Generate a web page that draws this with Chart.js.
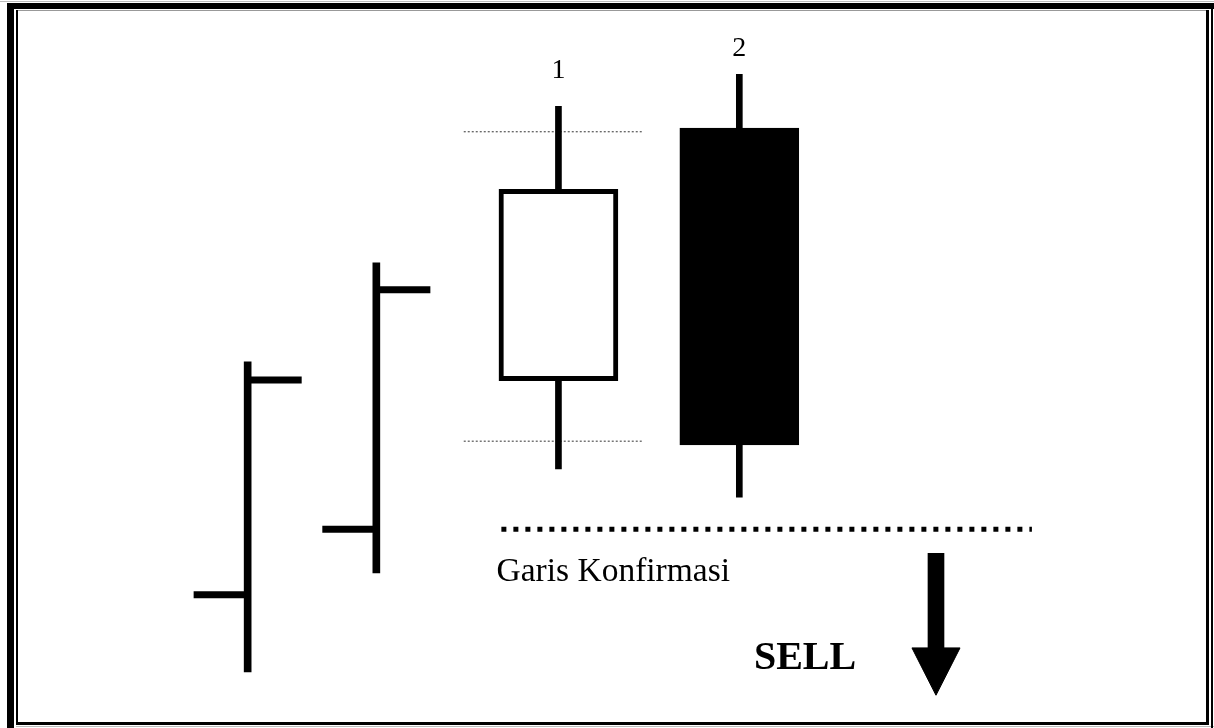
<!DOCTYPE html>
<html>
<head>
<meta charset="utf-8">
<script src="https://cdn.jsdelivr.net/npm/chart.js@4"></script>
<style>
  html, body { margin: 0; padding: 0; background: #fff; }
  #wrap { width: 1214px; height: 728px; position: relative; }
</style>
</head>
<body>
<div id="wrap"><canvas id="pattern"></canvas></div>
<script>
// OHLC bars before the pattern
const barX = [20.4, 31.0];
const barOpen = [18.3, 27.3];
const barHigh = [50.3, 63.9];
const barLow = [7.7, 21.3];
const barClose = [47.8, 60.2];

// candles 1 and 2 (bearish engulfing)
const candleLabels = ['1', '2'];
const candleX = [46.0, 60.9];
const candleOpen = [47.7, 82.4];
const candleHigh = [85.4, 89.8];
const candleLow = [35.6, 31.7];
const candleClose = [74.0, 38.9];
const labelY = [89.3, 92.3];

// dotted guides across candle 1
const guideY = [81.9, 39.4];
const guideRange = [38.2, 53.0];

// confirmation line
const confirmY = 27.3;
const confirmRange = [41.3, 85.0];
const confirmText = 'Garis Konfirmasi';
const confirmTextPos = [40.9, 20.2];

// sell signal
const sellText = 'SELL';
const sellTextPos = [62.1, 8.1];
const arrowX = 77.1;
const arrowTop = 24.0, arrowHead = 11.0, arrowTip = 4.5;

const black = '#000';
const tickLen = 4.45;     // ohlc tick length in x units
const headHalf = 1.98;    // arrow head half width in x units

function segment(x1, y1, x2, y2, extra) {
  return Object.assign({
    type: 'line',
    order: 3,
    data: [{x: x1, y: y1}, {x: x2, y: y2}],
    borderColor: black,
    borderWidth: 7,
    borderCapStyle: 'butt',
    pointRadius: 0,
    fill: false
  }, extra);
}

const datasets = [];

// candle bodies
datasets.push({
  type: 'bar', order: 1, stack: 'all',
  data: candleX.map((x, i) => ({x: x, y: [candleOpen[i], candleClose[i]]})),
  backgroundColor: candleX.map((x, i) => candleClose[i] > candleOpen[i] ? '#fff' : black),
  borderColor: black, borderWidth: 5, borderSkipped: false,
  barThickness: 119
});
// wicks
datasets.push({
  type: 'bar', order: 2, stack: 'all',
  data: candleX.map((x, i) => ({x: x, y: [candleLow[i], candleHigh[i]]})),
  backgroundColor: black, barThickness: 6
});
// ohlc high-low
datasets.push({
  type: 'bar', order: 2, stack: 'all',
  data: barX.map((x, i) => ({x: x, y: [barLow[i], barHigh[i]]})),
  backgroundColor: black, barThickness: 7
});
// arrow shaft
datasets.push({
  type: 'bar', order: 2, stack: 'all',
  data: [{x: arrowX, y: [arrowHead, arrowTop]}],
  backgroundColor: black, barThickness: 16
});

// ohlc open / close ticks
barX.forEach((x, i) => {
  datasets.push(segment(x - tickLen, barOpen[i], x, barOpen[i]));
  datasets.push(segment(x, barClose[i], x + tickLen, barClose[i]));
});

// guides
guideY.forEach(g => {
  datasets.push(segment(guideRange[0], g, guideRange[1], g, {
    borderWidth: 1, borderDash: [2, 2], borderColor: '#333', order: 4
  }));
});

// confirmation
datasets.push(segment(confirmRange[0], confirmY, confirmRange[1], confirmY, {
  borderWidth: 5, borderDash: [5, 7]
}));

// arrow head
datasets.push({
  type: 'line', order: 2,
  data: [
    {x: arrowX - headHalf, y: arrowHead},
    {x: arrowX, y: arrowTip},
    {x: arrowX + headHalf, y: arrowHead},
    {x: arrowX - headHalf, y: arrowHead}
  ],
  borderColor: black, borderWidth: 1, backgroundColor: black,
  pointRadius: 0, fill: 'shape'
});

const textPlugin = {
  id: 'texts',
  afterDatasetsDraw(chart) {
    const ctx = chart.ctx;
    const xs = chart.scales.x, ys = chart.scales.y;
    ctx.save();
    ctx.fillStyle = black;
    ctx.textBaseline = 'alphabetic';
    ctx.textAlign = 'center';
    ctx.font = '28px "Liberation Serif", "Times New Roman", serif';
    candleLabels.forEach((t, i) => {
      ctx.fillText(t, xs.getPixelForValue(candleX[i]), ys.getPixelForValue(labelY[i]));
    });
    ctx.textAlign = 'left';
    ctx.font = '33.5px "Liberation Serif", "Times New Roman", serif';
    ctx.fillText(confirmText, xs.getPixelForValue(confirmTextPos[0]), ys.getPixelForValue(confirmTextPos[1]));
    ctx.font = 'bold 40px "Liberation Serif", "Times New Roman", serif';
    ctx.fillText(sellText, xs.getPixelForValue(sellTextPos[0]), ys.getPixelForValue(sellTextPos[1]));
    ctx.restore();
  }
};

// double frame round the picture
const framePlugin = {
  id: 'frame',
  afterDraw(chart) {
    const ctx = chart.ctx;
    ctx.save();
    ctx.fillStyle = '#bbb';
    ctx.fillRect(0, 1, 1214, 1);
    ctx.fillRect(16, 726, 1198, 1);
    ctx.fillStyle = '#999';
    ctx.fillRect(16, 10, 1191, 1);
    ctx.fillStyle = black;
    ctx.fillRect(7, 3, 1207, 6);
    ctx.fillRect(7, 3, 7, 725);
    ctx.fillRect(16, 10, 2, 715);
    ctx.fillRect(16, 722, 1193, 3);
    ctx.fillRect(1206, 10, 3, 715);
    ctx.fillRect(1211, 3, 2, 725);
    ctx.restore();
  }
};

new Chart(document.getElementById('pattern'), {
  type: 'scatter',
  data: { datasets: datasets },
  options: {
    responsive: true,
    maintainAspectRatio: false,
    animation: false,
    layout: { padding: 0, autoPadding: false },
    plugins: { legend: { display: false }, tooltip: { enabled: false } },
    scales: {
      x: { type: 'linear', min: 0, max: 100, display: false, offset: false, grid: { offset: false } },
      y: { type: 'linear', min: 0, max: 100, display: false, stacked: false }
    }
  },
  plugins: [textPlugin, framePlugin]
});
</script>
</body>
</html>
